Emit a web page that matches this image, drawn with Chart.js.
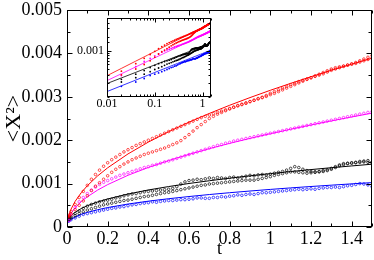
<!DOCTYPE html>
<html>
<head>
<meta charset="utf-8">
<script src="https://cdn.jsdelivr.net/npm/chart.js@4.4.1/dist/chart.umd.min.js"></script>
<style>
  html, body { margin: 0; padding: 0; background: #fff; }
  #wrap { position: relative; width: 374px; height: 260px; }
  #main { position: absolute; left: 0; top: 0; }
  #inset { position: absolute; left: 72px; top: 14px; }
</style>
</head>
<body>
<div id="wrap">
  <canvas id="main" width="374" height="260" style="width:374px;height:260px"></canvas>
  <canvas id="inset" width="144" height="96" style="width:144px;height:96px"></canvas>
</div>
<script>
// time grid of the measured curves
var t = [
  0.01, 0.02, 0.04, 0.06, 0.08, 0.10, 0.12, 0.14, 0.16, 0.18,
  0.20, 0.22, 0.24, 0.26, 0.28, 0.30, 0.32, 0.34, 0.36, 0.38,
  0.40, 0.42, 0.44, 0.46, 0.48, 0.50, 0.52, 0.54, 0.56, 0.58,
  0.60, 0.62, 0.64, 0.66, 0.68, 0.70, 0.72, 0.74, 0.76, 0.78,
  0.80, 0.82, 0.84, 0.86, 0.88, 0.90, 0.92, 0.94, 0.96, 0.98,
  1.00, 1.02, 1.04, 1.06, 1.08, 1.10, 1.12, 1.14, 1.16, 1.18,
  1.20, 1.22, 1.24, 1.26, 1.28, 1.30, 1.32, 1.34, 1.36, 1.38,
  1.40, 1.42, 1.44, 1.46, 1.48, 1.50
];

var red1 = [
  0.00027, 0.00036, 0.00052, 0.00068, 0.00082, 0.00096, 0.00110, 0.00121, 0.00131, 0.00140,
  0.00148, 0.00155, 0.00161, 0.00167, 0.00173, 0.00178, 0.00183, 0.00188, 0.00192, 0.00196,
  0.00200, 0.00204, 0.00208, 0.00212, 0.00216, 0.00220, 0.00224, 0.00228, 0.00232, 0.00236,
  0.00240, 0.00244, 0.00248, 0.00252, 0.00255, 0.00258, 0.00261, 0.00264, 0.00267, 0.00270,
  0.00273, 0.00276, 0.00279, 0.00282, 0.00285, 0.00289, 0.00292, 0.00296, 0.00299, 0.00303,
  0.00308, 0.00312, 0.00316, 0.00320, 0.00324, 0.00328, 0.00331, 0.00335, 0.00338, 0.00341,
  0.00344, 0.00347, 0.00350, 0.00353, 0.00357, 0.00361, 0.00364, 0.00367, 0.00370, 0.00373,
  0.00376, 0.00379, 0.00383, 0.00387, 0.00391, 0.00395
];

var red2 = [
  0.00024, 0.00030, 0.00040, 0.00050, 0.00060, 0.00072, 0.00084, 0.00094, 0.00102, 0.00110,
  0.00118, 0.00126, 0.00133, 0.00139, 0.00145, 0.00150, 0.00155, 0.00159, 0.00163, 0.00167,
  0.00170, 0.00173, 0.00176, 0.00179, 0.00182, 0.00186, 0.00190, 0.00194, 0.00199, 0.00206,
  0.00213, 0.00221, 0.00229, 0.00236, 0.00243, 0.00250, 0.00255, 0.00260, 0.00264, 0.00268,
  0.00272, 0.00276, 0.00280, 0.00283, 0.00286, 0.00289, 0.00292, 0.00295, 0.00298, 0.00301,
  0.00305, 0.00308, 0.00312, 0.00316, 0.00320, 0.00324, 0.00328, 0.00332, 0.00336, 0.00340,
  0.00344, 0.00348, 0.00352, 0.00356, 0.00360, 0.00364, 0.00367, 0.00369, 0.00371, 0.00373,
  0.00375, 0.00377, 0.00380, 0.00383, 0.00386, 0.00389
];

var magenta = [
  0.00015, 0.00029, 0.00045, 0.00058, 0.00068, 0.00077, 0.00085, 0.00092, 0.00098, 0.00103,
  0.00107, 0.00111, 0.00115, 0.00119, 0.00122, 0.00125, 0.00128, 0.00131, 0.00134, 0.00137,
  0.00139, 0.00142, 0.00144, 0.00147, 0.00150, 0.00152, 0.00155, 0.00158, 0.00161, 0.00164,
  0.00167, 0.00170, 0.00173, 0.00176, 0.00179, 0.00182, 0.00185, 0.00188, 0.00190, 0.00193,
  0.00195, 0.00198, 0.00200, 0.00202, 0.00204, 0.00206, 0.00208, 0.00210, 0.00212, 0.00214,
  0.00216, 0.00218, 0.00220, 0.00222, 0.00224, 0.00226, 0.00228, 0.00230, 0.00232, 0.00234,
  0.00236, 0.00238, 0.00240, 0.00242, 0.00244, 0.00246, 0.00248, 0.00250, 0.00252, 0.00254,
  0.00256, 0.00258, 0.00260, 0.00262, 0.00264, 0.00266
];

var black1 = [
  0.00019, 0.00024, 0.00031, 0.00037, 0.00043, 0.00048, 0.00052, 0.00055, 0.00058, 0.00060,
  0.00062, 0.00064, 0.00067, 0.00069, 0.00072, 0.00074, 0.00076, 0.00077, 0.00079, 0.00081,
  0.00082, 0.00083, 0.00084, 0.00085, 0.00086, 0.00087, 0.00089, 0.00093, 0.00099, 0.00104,
  0.00107, 0.00108, 0.00110, 0.00109, 0.00111, 0.00113, 0.00112, 0.00114, 0.00113, 0.00112,
  0.00114, 0.00115, 0.00113, 0.00115, 0.00117, 0.00119, 0.00118, 0.00120, 0.00121, 0.00120,
  0.00122, 0.00124, 0.00126, 0.00128, 0.00131, 0.00135, 0.00139, 0.00137, 0.00133, 0.00130,
  0.00128, 0.00127, 0.00128, 0.00130, 0.00132, 0.00135, 0.00139, 0.00143, 0.00146, 0.00147,
  0.00148, 0.00149, 0.00151, 0.00152, 0.00153, 0.00150
];

var black2 = [
  0.00017, 0.00021, 0.00026, 0.00031, 0.00035, 0.00039, 0.00042, 0.00045, 0.00048, 0.00051,
  0.00053, 0.00055, 0.00057, 0.00059, 0.00061, 0.00062, 0.00064, 0.00066, 0.00068, 0.00070,
  0.00071, 0.00073, 0.00075, 0.00077, 0.00079, 0.00080, 0.00082, 0.00084, 0.00086, 0.00088,
  0.00090, 0.00092, 0.00094, 0.00096, 0.00097, 0.00099, 0.00100, 0.00101, 0.00102, 0.00103,
  0.00104, 0.00105, 0.00106, 0.00107, 0.00108, 0.00108, 0.00108, 0.00110, 0.00112, 0.00114,
  0.00116, 0.00119, 0.00121, 0.00123, 0.00125, 0.00127, 0.00127, 0.00126, 0.00125, 0.00124,
  0.00125, 0.00126, 0.00127, 0.00128, 0.00130, 0.00133, 0.00137, 0.00141, 0.00144, 0.00146,
  0.00147, 0.00148, 0.00149, 0.00150, 0.00149, 0.00148
];

var blue = [
  0.00014, 0.00017, 0.00021, 0.00025, 0.00029, 0.00031, 0.00033, 0.00035, 0.00037, 0.00039,
  0.00041, 0.00043, 0.00044, 0.00046, 0.00047, 0.00049, 0.00051, 0.00052, 0.00054, 0.00055,
  0.00056, 0.00058, 0.00057, 0.00059, 0.00060, 0.00061, 0.00061, 0.00062, 0.00063, 0.00063,
  0.00064, 0.00065, 0.00067, 0.00067, 0.00066, 0.00066, 0.00068, 0.00068, 0.00070, 0.00069,
  0.00071, 0.00072, 0.00074, 0.00073, 0.00075, 0.00076, 0.00075, 0.00077, 0.00079, 0.00079,
  0.00080, 0.00081, 0.00082, 0.00083, 0.00084, 0.00085, 0.00086, 0.00087, 0.00086, 0.00087,
  0.00088, 0.00087, 0.00089, 0.00090, 0.00091, 0.00091, 0.00092, 0.00091, 0.00093, 0.00095,
  0.00096, 0.00098, 0.00100, 0.00099, 0.00097, 0.00093
];

// fitted power-law curves (thin lines)
var fitT = [0.005, 0.01, 0.02, 0.04, 0.07, 0.1, 0.15, 0.2, 0.3, 0.4, 0.5,
            0.6, 0.7, 0.8, 0.9, 1.0, 1.1, 1.2, 1.3, 1.4, 1.5];
var redFit = [0.000200, 0.000287, 0.000412, 0.000591, 0.000790, 0.000951, 0.001175, 0.001364,
              0.001684, 0.001956, 0.002197, 0.002415, 0.002617, 0.002805, 0.002982, 0.003150,
              0.003310, 0.003463, 0.003611, 0.003752, 0.003889];
var magentaFit = [0.000160, 0.000225, 0.000316, 0.000444, 0.000584, 0.000696, 0.000849, 0.000977,
                  0.001192, 0.001372, 0.001531, 0.001674, 0.001805, 0.001927, 0.002042, 0.002150,
                  0.002253, 0.002351, 0.002445, 0.002535, 0.002623];
var blackFit = [0.000148, 0.000195, 0.000257, 0.000339, 0.000425, 0.000490, 0.000576, 0.000646,
                0.000760, 0.000853, 0.000932, 0.001003, 0.001066, 0.001125, 0.001179, 0.001230,
                0.001278, 0.001323, 0.001366, 0.001407, 0.001447];
var blueFit = [0.0000986, 0.000131, 0.000174, 0.000231, 0.000291, 0.000337, 0.000398, 0.000448,
               0.000529, 0.000595, 0.000652, 0.000702, 0.000748, 0.000790, 0.000829, 0.000866,
               0.000901, 0.000933, 0.000964, 0.000994, 0.001023];

var xTickLabels = ['0', '0.2', '0.4', '0.6', '0.8', '1', '1.2', '1.4'];
var yTickLabels = ['0', '0.001', '0.002', '0.003', '0.004', '0.005'];
var insetXTicks = [0.01, 0.1, 1];
var insetXTickLabels = ['0.01', '0.1', '1'];
var insetYTicks = [0.001];
var insetYTickLabels = ['0.001'];

Chart.defaults.font.family = 'Liberation Serif';
Chart.defaults.color = '#000';

function pts(xs, ys) {
  return xs.map(function (x, i) { return { x: x, y: ys[i] }; });
}

function logLabel(v, vals, labels) {
  for (var i = 0; i < vals.length; i++) {
    if (Math.abs(v / vals[i] - 1) < 1e-6) return labels[i];
  }
  return '';
}

// xmgrace style frame: box with inward ticks on all four sides
var boxTicks = {
  id: 'boxTicks',
  beforeDatasetsDraw: function (chart, args, opts) {
    if (!opts.fill) return;
    var a = chart.chartArea;
    chart.ctx.save();
    chart.ctx.fillStyle = opts.fill;
    chart.ctx.fillRect(a.left, a.top, a.right - a.left, a.bottom - a.top);
    chart.ctx.restore();
  },
  afterDatasetsDraw: function (chart, args, opts) {
    var ctx = chart.ctx, a = chart.chartArea;
    var L = Math.round(a.left) + 0.5, R = Math.round(a.right) - 0.5;
    var T = Math.round(a.top) + 0.5, B = Math.round(a.bottom) - 0.5;
    var sx = chart.scales.x, sy = chart.scales.y;
    ctx.save();
    ctx.strokeStyle = '#000';
    ctx.lineWidth = 1;
    ctx.beginPath();
    sx.ticks.forEach(function (tk) {
      var p = Math.round(sx.getPixelForValue(tk.value)) + 0.5;
      var len = tk.label ? opts.major : opts.minor;
      ctx.moveTo(p, B); ctx.lineTo(p, B - len);
      ctx.moveTo(p, T); ctx.lineTo(p, T + len);
    });
    sy.ticks.forEach(function (tk) {
      var p = Math.round(sy.getPixelForValue(tk.value)) + 0.5;
      var len = tk.label ? opts.major : opts.minor;
      ctx.moveTo(L, p); ctx.lineTo(L + len, p);
      ctx.moveTo(R, p); ctx.lineTo(R - len, p);
    });
    ctx.stroke();
    ctx.strokeRect(L, T, R - L, B - T);
    ctx.restore();
  }
};

function dataSet(ys, color) {
  return { data: pts(t, ys), borderColor: color, backgroundColor: 'rgba(0,0,0,0)',
           pointRadius: 1.3, borderWidth: 0.7, pointHoverRadius: 0 };
}
function fitSet(ys, color) {
  return { data: pts(fitT, ys), showLine: true, borderColor: color, borderWidth: 1,
           pointRadius: 0, fill: false };
}
function dotSet(ys, color) {
  return { data: pts(t, ys), borderColor: color, backgroundColor: color,
           pointRadius: 0.9, borderWidth: 0, pointHoverRadius: 0 };
}
function thinSet(ys, color) {
  return { data: pts(fitT, ys), showLine: true, borderColor: color, borderWidth: 0.8,
           pointRadius: 0, fill: false };
}

var tickFont = { family: 'Liberation Serif', size: 18 };

new Chart(document.getElementById('main'), {
  type: 'scatter',
  data: {
    datasets: [
      dataSet(red1, '#ff0000'),
      dataSet(red2, '#ff0000'),
      dataSet(magenta, '#ff00ff'),
      dataSet(black1, '#000000'),
      dataSet(black2, '#000000'),
      dataSet(blue, '#0000ff'),
      fitSet(redFit, '#ff0000'),
      fitSet(magentaFit, '#ff00ff'),
      fitSet(blackFit, '#000000'),
      fitSet(blueFit, '#0000ff')
    ]
  },
  options: {
    responsive: false,
    animation: false,
    devicePixelRatio: 1,
    layout: { padding: { top: 10, right: 2, left: 0, bottom: 0 } },
    plugins: {
      legend: { display: false },
      tooltip: { enabled: false },
      boxTicks: { major: 5, minor: 3 }
    },
    scales: {
      x: {
        type: 'linear', min: 0, max: 1.5,
        grid: { display: false, drawTicks: false },
        border: { display: false },
        ticks: {
          stepSize: 0.1, autoSkip: false, maxRotation: 0, minRotation: 0, padding: 1,
          font: tickFont,
          callback: function (v, i) { return i % 2 === 0 ? xTickLabels[i / 2] : ''; }
        },
        title: { display: true, text: 't', font: { size: 18 }, padding: 0 },
        afterFit: function (s) { s.height = 33; s.paddingLeft = 0; s.paddingRight = 0; }
      },
      y: {
        type: 'linear', min: 0, max: 0.005,
        grid: { display: false, drawTicks: false },
        border: { display: false },
        ticks: {
          stepSize: 0.0005, autoSkip: false, padding: 5,
          font: tickFont,
          callback: function (v, i) { return i % 2 === 0 ? yTickLabels[i / 2] : ''; }
        },
        title: { display: true, text: '<X\u00B2>', font: { size: 22 }, padding: { top: 1 } },
        afterFit: function (s) { s.width = 67; s.paddingTop = 0; s.paddingBottom = 0; }
      }
    }
  },
  plugins: [boxTicks]
});

new Chart(document.getElementById('inset'), {
  type: 'scatter',
  data: {
    datasets: [
      dotSet(red1, '#ff0000'),
      dotSet(red2, '#ff0000'),
      dotSet(magenta, '#ff00ff'),
      dotSet(black1, '#000000'),
      dotSet(black2, '#000000'),
      dotSet(blue, '#0000ff'),
      thinSet(redFit, '#ff0000'),
      thinSet(magentaFit, '#ff00ff'),
      thinSet(blackFit, '#000000'),
      thinSet(blueFit, '#0000ff')
    ]
  },
  options: {
    responsive: false,
    animation: false,
    devicePixelRatio: 1,
    layout: { padding: { top: 4, right: 5, left: 0, bottom: 0 } },
    plugins: {
      legend: { display: false },
      tooltip: { enabled: false },
      boxTicks: { major: 4, minor: 2, fill: '#ffffff' }
    },
    scales: {
      x: {
        type: 'logarithmic', min: 0.01, max: 1.5,
        grid: { display: false, drawTicks: false },
        border: { display: false },
        ticks: {
          autoSkip: false, maxRotation: 0, minRotation: 0, padding: 0,
          font: { size: 12 },
          callback: function (v) { return logLabel(v, insetXTicks, insetXTickLabels); }
        },
        afterFit: function (s) { s.height = 13; s.paddingLeft = 0; s.paddingRight = 0; }
      },
      y: {
        type: 'logarithmic', min: 0.0001, max: 0.005,
        grid: { display: false, drawTicks: false },
        border: { display: false },
        ticks: {
          autoSkip: false, padding: 3,
          font: { size: 12 },
          callback: function (v) { return logLabel(v, insetYTicks, insetYTickLabels); }
        },
        afterFit: function (s) { s.width = 35; s.paddingTop = 0; s.paddingBottom = 0; }
      }
    }
  },
  plugins: [boxTicks]
});
</script>
</body>
</html>
